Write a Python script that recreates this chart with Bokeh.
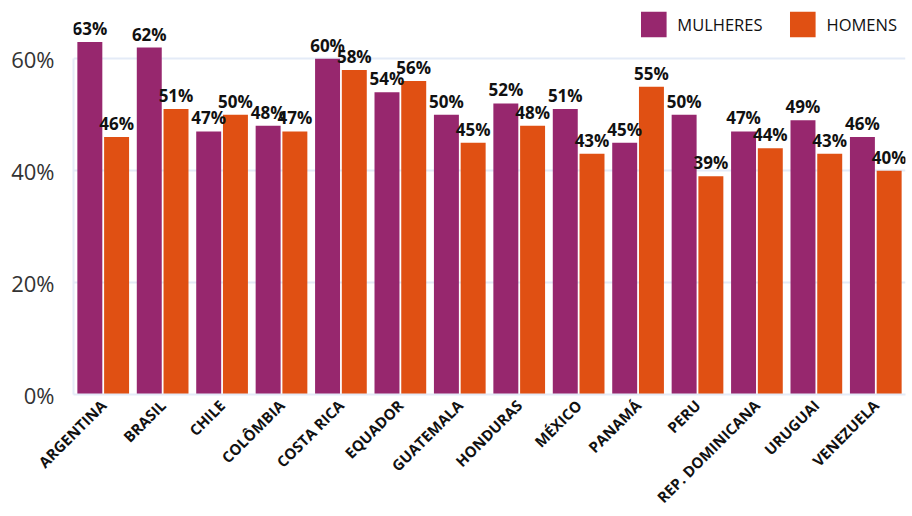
from bokeh.plotting import figure
from bokeh.models import ColumnDataSource, FactorRange, Range1d, FixedTicker, PrintfTickFormatter, Legend, LegendItem
from bokeh.transform import dodge
from bokeh.core.properties import value
from bokeh.embed import file_html
from bokeh.resources import INLINE
import math

countries = ["ARGENTINA", "BRASIL", "CHILE", "COLÔMBIA", "COSTA RICA", "EQUADOR", "GUATEMALA",
             "HONDURAS", "MÉXICO", "PANAMÁ", "PERU", "REP. DOMINICANA", "URUGUAI", "VENEZUELA"]
mulheres = [63, 62, 47, 48, 60, 54, 50, 52, 51, 45, 50, 47, 49, 46]
homens = [46, 51, 50, 47, 58, 56, 45, 48, 43, 55, 39, 44, 43, 40]
y_ticks = [0, 20, 40, 60]

C_M = "#97276e"
C_H = "#e05013"
GRID = "#e4ebf7"
FONT = "Open Sans"

src = ColumnDataSource(dict(
    x=countries, m=mulheres, h=homens,
    ml=[f"{v}%" for v in mulheres], hl=[f"{v}%" for v in homens],
))

p = figure(width=912, height=516, x_range=FactorRange(*countries, range_padding=0),
           y_range=Range1d(0, 70.4), output_backend="svg", toolbar_location=None,
           min_border_left=73, min_border_right=7, min_border_top=0, min_border_bottom=0)
p.outline_line_color = None
p.background_fill_color = "white"
p.border_fill_color = "white"

rm = p.vbar(x=dodge("x", -0.225, range=p.x_range), top="m", width=0.42, source=src, color=C_M, line_color=None)
rh = p.vbar(x=dodge("x", 0.225, range=p.x_range), top="h", width=0.42, source=src, color=C_H, line_color=None)

for col, lab, off in (("m", "ml", -0.225), ("h", "hl", 0.225)):
    p.text(x=dodge("x", off, range=p.x_range), y=col, text=lab, source=src, y_offset=-2,
           text_align="center", text_baseline="bottom", text_font=value(FONT),
           text_font_style="bold", text_font_size="17px", text_color="#111111")

p.xgrid.grid_line_color = None
p.ygrid.grid_line_color = GRID
p.ygrid.grid_line_width = 2
p.ygrid.ticker = FixedTicker(ticks=y_ticks)

p.yaxis.ticker = FixedTicker(ticks=y_ticks)
p.yaxis.formatter = PrintfTickFormatter(format="%d%%")
p.yaxis.bounds = (0, 60)
p.yaxis.axis_line_color = GRID
p.yaxis.axis_line_width = 2
p.yaxis.major_tick_line_color = None
p.yaxis.minor_tick_line_color = None
p.yaxis.major_label_text_font = FONT
p.yaxis.major_label_text_font_size = "22px"
p.yaxis.major_label_text_color = "#333333"
p.yaxis.major_label_standoff = 13

p.xaxis.axis_line_color = GRID
p.xaxis.axis_line_width = 2
p.xaxis.major_tick_line_color = None
p.xaxis.minor_tick_line_color = None
p.xaxis.major_label_orientation = math.pi / 4
p.xaxis.major_label_text_font = FONT
p.xaxis.major_label_text_font_style = "bold"
p.xaxis.major_label_text_font_size = "15px"
p.xaxis.major_label_text_color = "#111111"
p.xaxis.major_label_standoff = 2

legend = Legend(items=[LegendItem(label="MULHERES", renderers=[rm]),
                       LegendItem(label="HOMENS", renderers=[rh])],
                location="top_right", orientation="horizontal")
legend.glyph_width = 32
legend.glyph_height = 32
legend.label_text_font = FONT
legend.label_text_font_size = "16.5px"
legend.label_text_color = "#111111"
legend.label_standoff = 8
legend.spacing = 24
legend.padding = 0
legend.margin = 8
legend.border_line_color = None
legend.background_fill_alpha = 0
p.add_layout(legend)

open("out.html", "w").write(file_html(p, INLINE))
